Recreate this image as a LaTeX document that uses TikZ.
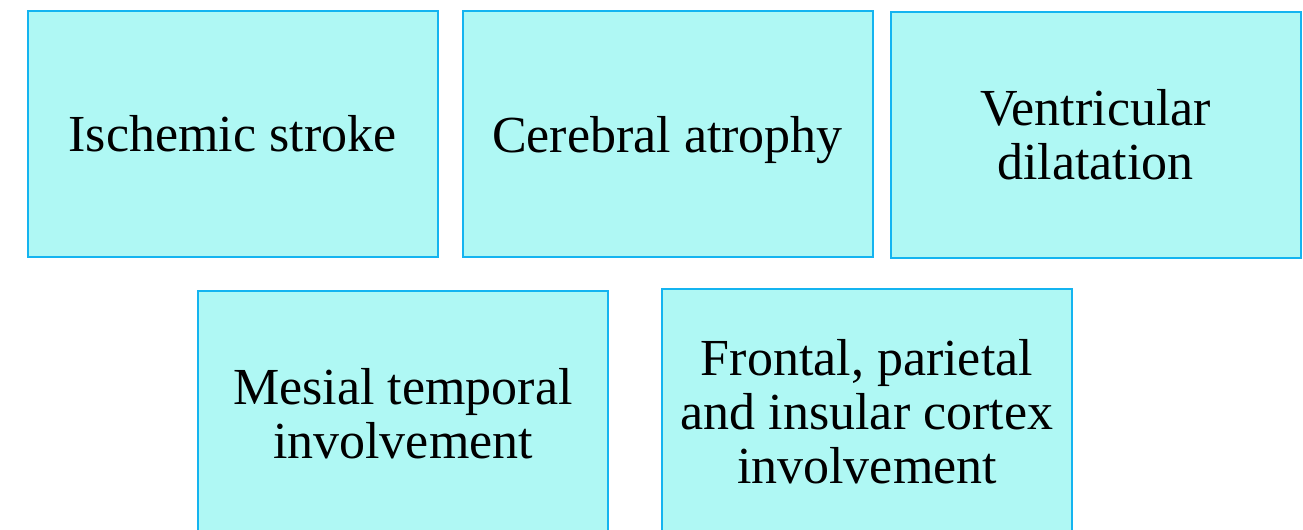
\documentclass[tikz,border=0pt]{standalone}
\usepackage{fontspec}
\setmainfont{Liberation Serif}
\usetikzlibrary{positioning}

\definecolor{boxfill}{HTML}{AFF8F4}
\definecolor{boxline}{HTML}{14B4F0}

\tikzset{
	finding/.style={draw=boxline, fill=boxfill, line width=1pt, align=center,
		minimum width=205pt, minimum height=123pt, inner sep=2pt,
		font=\fontsize{26}{27}\selectfont}
}

\begin{document}
\begin{tikzpicture}[x=0.5pt, y=-0.5pt]

	\clip (0,0) rectangle (1303,530);

	\node[finding] (ischemic) at (232.5,134) {Ischemic stroke};
	\node[finding, right=11.5pt of ischemic, text depth=0pt] (atrophy) {Cerebral atrophy};
	\node[finding, right=8pt of atrophy, yshift=-0.5pt] (ventricular) {Ventricular\\dilatation};

	\node[finding] (mesial) at (403,414) {Mesial temporal\\involvement};
	\node[finding] (cortex) at (867,412) {Frontal, parietal\\and insular cortex\\involvement};

\end{tikzpicture}
\end{document}
